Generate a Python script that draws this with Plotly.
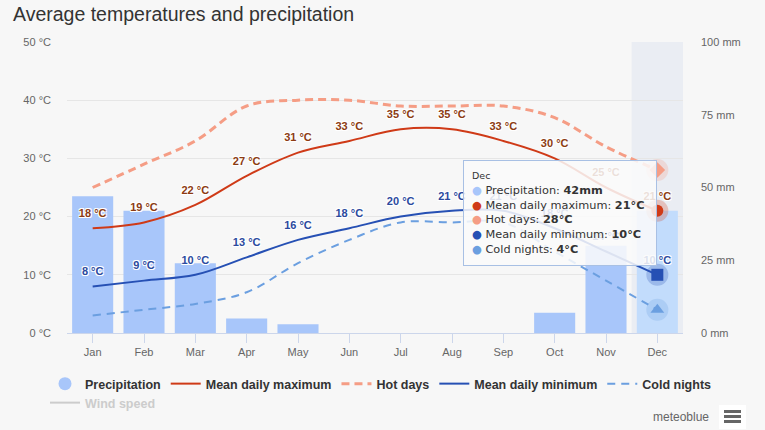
import plotly.graph_objects as go

# ---------------- data ----------------
months = ["Jan", "Feb", "Mar", "Apr", "May", "Jun", "Jul", "Aug", "Sep", "Oct", "Nov", "Dec"]
precip_mm = [47, 42, 24, 5, 3, 0, 0, 0, 0, 7, 30, 42]
mean_max = [18, 19, 22, 27, 31, 33, 35, 35, 33, 30, 25, 21]
hot_days = [25, 29, 33, 39, 40, 40, 39, 39, 39, 37, 32, 28]
mean_min = [8, 9, 10, 13, 16, 18, 20, 21, 21, 18, 14, 10]
cold_nights = [3, 4, 5, 7, 12, 16, 19, 19, 19, 14, 9, 4]
temp_ticks = [0, 10, 20, 30, 40, 50]
precip_ticks = [0, 25, 50, 75, 100]
hover_index = 11  # highlighted month (Dec)

# ---------------- styles ----------------
C_PRECIP = "#a8c6fa"
C_PRECIP_HOVER = "#c2dcfc"
C_MAX = "#cf3a17"
C_HOT = "#f59d85"
C_MIN = "#2650b4"
C_COLD = "#6b9fe0"
C_MAX_LBL = "#8c3b12"
C_MIN_LBL = "#2b4a9e"
BG = "#f7f7f7"
FONT = "Liberation Sans, Arial, sans-serif"

W, H = 765, 430
L, R, T, B = 67, 82, 42, 97
PW, PH = W - L - R, H - T - B


def px_x(px):
    return (px - L) / PW


def px_y(py):
    return (H - B - py) / PH


OUTLINE = "-1px -1px 0 #fff, 1px -1px 0 #fff, -1px 1px 0 #fff, 1px 1px 0 #fff"

fig = go.Figure()

bar_colors = [C_PRECIP_HOVER if i == hover_index else C_PRECIP for i in range(len(months))]
fig.add_trace(go.Bar(x=months, y=precip_mm, yaxis="y", marker=dict(color=bar_colors, line=dict(width=0)),
                     showlegend=False, name="Precipitation"))

# legend stand-in for precipitation (circle symbol)
fig.add_trace(go.Scatter(x=[None], y=[None], mode="markers", name="Precipitation",
                         marker=dict(symbol="circle", size=13, color=C_PRECIP), yaxis="y2"))

fig.add_trace(go.Scatter(x=months, y=mean_max, mode="lines", name="Mean daily maximum", yaxis="y2",
                         line=dict(color=C_MAX, width=2, shape="spline", smoothing=1)))
fig.add_trace(go.Scatter(x=months, y=hot_days, mode="lines", name="Hot days", yaxis="y2",
                         line=dict(color=C_HOT, width=3, dash="8px,5px", shape="spline", smoothing=1)))
fig.add_trace(go.Scatter(x=months, y=mean_min, mode="lines", name="Mean daily minimum", yaxis="y2",
                         line=dict(color=C_MIN, width=2, shape="spline", smoothing=1)))
fig.add_trace(go.Scatter(x=months, y=cold_nights, mode="lines", name="Cold nights", yaxis="y2",
                         line=dict(color=C_COLD, width=2, dash="8px,6px", shape="spline", smoothing=1)))
fig.add_trace(go.Scatter(x=[None], y=[None], mode="lines", name="Wind speed", yaxis="y2", legend="legend2",
                         line=dict(color="#cccccc", width=2)))

# data labels
fig.add_trace(go.Scatter(x=months, y=mean_max, mode="markers+text", yaxis="y2", showlegend=False,
                         text=[f"{v} °C" for v in mean_max], textposition="top center",
                         marker=dict(size=12, color="rgba(0,0,0,0)"),
                         textfont=dict(family=FONT, size=11, color=C_MAX_LBL, weight="bold", shadow=OUTLINE)))
fig.add_trace(go.Scatter(x=months, y=mean_min, mode="markers+text", yaxis="y2", showlegend=False,
                         text=[f"{v} °C" for v in mean_min], textposition="top center",
                         marker=dict(size=12, color="rgba(0,0,0,0)"),
                         textfont=dict(family=FONT, size=11, color=C_MIN_LBL, weight="bold", shadow=OUTLINE)))

# highlighted (hovered) markers
hx = [months[hover_index]]
for series, color, sym, size in [(hot_days, C_HOT, "diamond", 12), (mean_max, C_MAX, "circle", 12),
                                 (mean_min, C_MIN, "square", 12), (cold_nights, C_COLD, "triangle-up", 12)]:
    fig.add_trace(go.Scatter(x=hx, y=[series[hover_index]], mode="markers", yaxis="y2", showlegend=False,
                             marker=dict(symbol="circle", size=22, color=color, opacity=0.25)))
    fig.add_trace(go.Scatter(x=hx, y=[series[hover_index]], mode="markers", yaxis="y2", showlegend=False,
                             marker=dict(symbol=sym, size=size, color=color, line=dict(width=0))))

# hover band
fig.add_shape(type="rect", xref="x", yref="paper", x0=hover_index - 0.5, x1=hover_index + 0.5,
              y0=0, y1=1, fillcolor="rgba(204,214,235,0.3)", line=dict(width=0), layer="below")

# tooltip
i = hover_index
tip = "<br>".join([
    f"<span style='font-size:9.5px'>{months[i]}</span>",
    f"<span style='color:{C_PRECIP}'>●</span> Precipitation: <b>{precip_mm[i]}mm</b>",
    f"<span style='color:{C_MAX}'>●</span> Mean daily maximum: <b>{mean_max[i]}°C</b>",
    f"<span style='color:{C_HOT}'>●</span> Hot days: <b>{hot_days[i]}°C</b>",
    f"<span style='color:{C_MIN}'>●</span> Mean daily minimum: <b>{mean_min[i]}°C</b>",
    f"<span style='color:{C_COLD}'>●</span> Cold nights: <b>{cold_nights[i]}°C</b>",
])
fig.add_annotation(text=tip, xref="paper", yref="paper", x=px_x(463), y=px_y(160),
                   xanchor="left", yanchor="top", align="left", valign="middle",
                   width=176, height=88, borderpad=8, borderwidth=1, bordercolor="#a8c0e4",
                   bgcolor="rgba(250,250,250,0.86)", showarrow=False,
                   font=dict(family="DejaVu Sans, sans-serif", size=11.3, color="#333"))

# credits
fig.add_annotation(text="meteoblue", xref="paper", yref="paper", x=px_x(711), y=px_y(417),
                   xanchor="right", yanchor="middle", showarrow=False,
                   font=dict(family=FONT, size=12, color="#666"))
fig.add_shape(type="rect", xref="paper", yref="paper", x0=px_x(719), x1=px_x(746), y0=px_y(429), y1=px_y(405),
              fillcolor="#ffffff", line=dict(width=0))
for cy in [411.5, 416.5, 421.5]:
    fig.add_shape(type="rect", xref="paper", yref="paper", x0=px_x(724), x1=px_x(741),
                  y0=px_y(cy + 1.5), y1=px_y(cy - 1.5), fillcolor="#666666", line=dict(width=0))

axis_font = dict(family=FONT, size=11, color="#666")
fig.update_layout(
    width=W, height=H, autosize=False, showlegend=True,
    margin=dict(l=L, r=R, t=T, b=B, pad=0),
    paper_bgcolor=BG, plot_bgcolor=BG,
    hovermode=False, bargap=0.2,
    title=dict(text="Average temperatures and precipitation", x=13 / W, xanchor="left", xref="container",
               y=1 - 14 / H, yanchor="middle", yref="container",
               font=dict(family=FONT, size=19.5, color="#333")),
    xaxis=dict(type="category", range=[-0.5, 11.5], showline=True, linecolor="#ccd6eb", linewidth=1,
               ticks="outside", ticklen=9, tickcolor="#ccd6eb", tickfont=axis_font, showgrid=False,
               fixedrange=True),
    yaxis=dict(side="right", range=[0, 100], tickmode="array", tickvals=precip_ticks,
               ticktext=[f"{v} mm" for v in precip_ticks], showgrid=False,
               zeroline=False, tickfont=axis_font, ticklabelstandoff=17, fixedrange=True),
    yaxis2=dict(overlaying="y", side="left", range=[0, 50], tickmode="array", tickvals=temp_ticks,
                ticktext=[f"{v} °C" for v in temp_ticks],
                showgrid=True, gridcolor="#e6e6e6", gridwidth=1, zeroline=False, tickfont=axis_font,
                ticklabelstandoff=15, fixedrange=True),
    legend=dict(orientation="h", x=px_x(45), xanchor="left", y=px_y(384), yanchor="middle",
                font=dict(family=FONT, size=12.5, color="#333", weight="bold"), itemwidth=30,
                bgcolor="rgba(0,0,0,0)", traceorder="normal"),
    legend2=dict(orientation="h", x=px_x(45), xanchor="left", y=px_y(403), yanchor="middle",
                 font=dict(family=FONT, size=12.5, color="#cccccc", weight="bold"), itemwidth=30,
                 bgcolor="rgba(0,0,0,0)"),
)

fig.write_html("out.html", post_script="document.body.style.margin='0';",
               config={"displayModeBar": False})
